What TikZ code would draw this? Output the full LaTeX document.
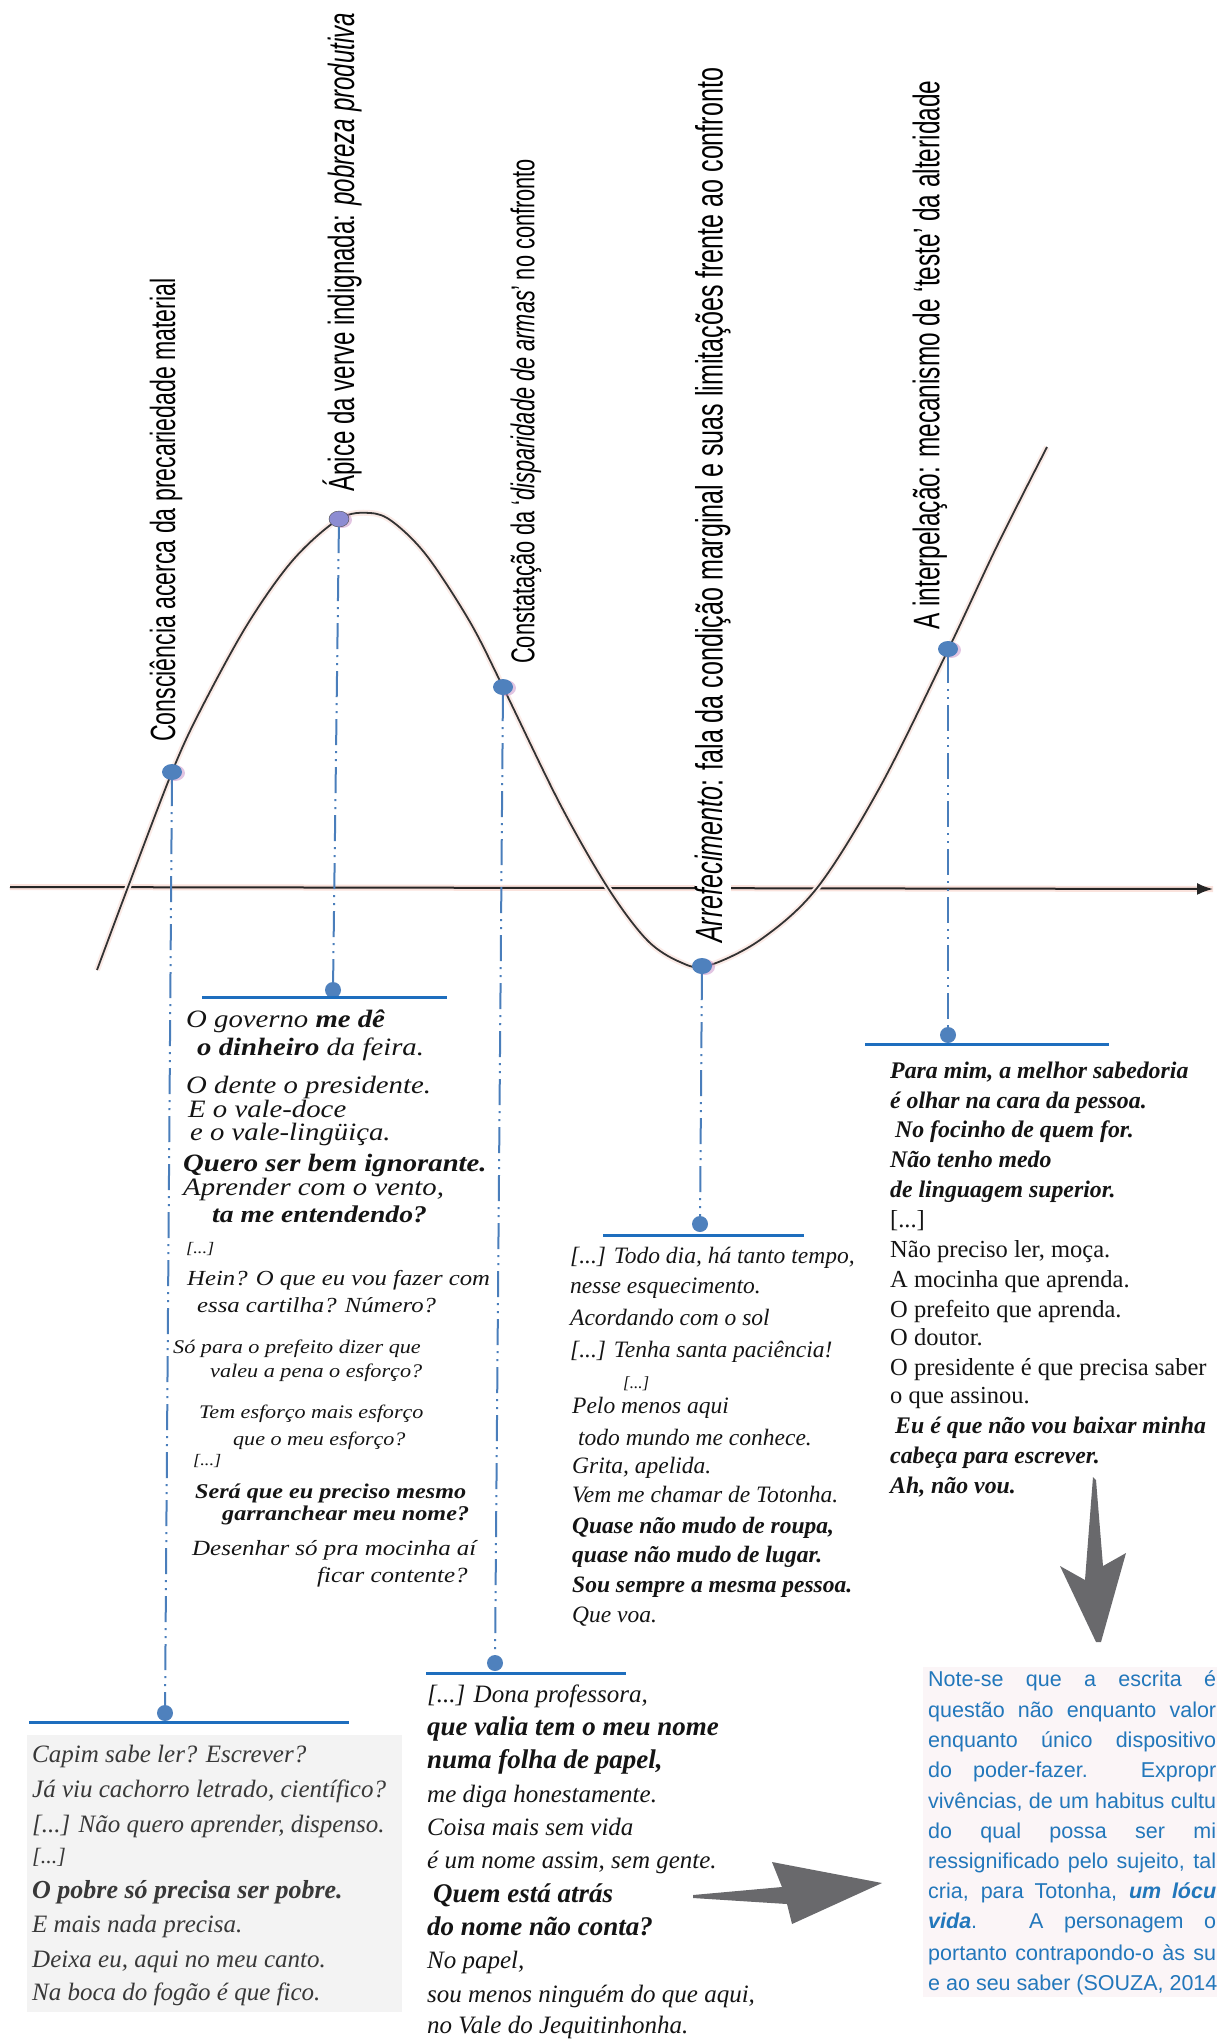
\documentclass[tikz,border=0pt]{standalone}
\usepackage{fontspec}
\setmainfont{Liberation Serif}
\newfontfamily\wideverse[FakeStretch=1.15]{Liberation Serif}
\newfontfamily\stagefont[FakeStretch=0.66]{Liberation Sans}
\newfontfamily\notefont{Liberation Sans}
\usetikzlibrary{arrows.meta,shapes.geometric,shadows}
\definecolor{DotBlue}{RGB}{79,129,189}
\definecolor{PeakViolet}{RGB}{140,140,210}
\definecolor{GuideBlue}{RGB}{74,126,187}
\definecolor{ShelfBlue}{RGB}{30,110,190}
\definecolor{NoteBlue}{RGB}{34,119,187}
\definecolor{BrushGray}{RGB}{105,105,108}
\definecolor{ScanPink}{RGB}{250,226,220}
\definecolor{PaperGray}{RGB}{243,243,243}
\definecolor{PaperPink}{RGB}{251,245,247}
\tikzset{
  curvedot/.style={ellipse, fill=DotBlue, minimum width=20pt, minimum height=16pt,
    inner sep=0pt, drop shadow={shadow xshift=3pt, shadow yshift=-1pt, fill=violet!45, opacity=.5}},
  enddot/.style={circle, fill=DotBlue, minimum size=16pt, inner sep=0pt},
  guide/.style={draw=GuideBlue, line width=2pt,
    dash pattern=on 26pt off 6pt on 2pt off 6pt on 2pt off 6pt},
  shelf/.style={draw=ShelfBlue, line width=3pt},
  stagelabel/.style={rotate=90, anchor=west, inner sep=0pt, text=black},
  verse/.style={anchor=base west, inner sep=0pt, text=black!92},
  noteline/.style={anchor=base west, inner sep=0pt, text=NoteBlue,
    font={\notefont\fontsize{21.5}{21.5}\selectfont}}
}

\begin{document}
\begin{tikzpicture}[x=1pt,y=-1pt]
\useasboundingbox (0,0) rectangle (1217,2040);

% paper tints of the scanned blocks
\fill[PaperGray] (27,1735) rectangle (402,2012);
\fill[PaperPink] (923,1667) rectangle (1217,1997);

% axis
\coordinate (axisL) at (10,887);
\coordinate (axisR) at (1213,889);
\draw[ScanPink, line width=6pt] (axisL) -- (axisR);
\draw[black!85, line width=2pt, -{Latex[length=16pt,width=12pt]}] (axisL) -- (axisR);

% the wave
\draw[ScanPink!70, line width=6pt] plot[smooth, tension=0.55] coordinates {
  (97,970) (128,887) (172,772) (200,711) (247,625) (293,560) (339,519) (370,513)
  (393,522) (427,556) (470,622) (503,687) (560,804) (608,888) (647,940) (680,962)
  (707,966) (760,940) (817,888) (880,787) (948,650) (997,546) (1047,447)};
\draw[black!80, line width=1.8pt] plot[smooth, tension=0.55] coordinates {
  (97,970) (128,887) (172,772) (200,711) (247,625) (293,560) (339,519) (370,513)
  (393,522) (427,556) (470,622) (503,687) (560,804) (608,888) (647,940) (680,962)
  (707,966) (760,940) (817,888) (880,787) (948,650) (997,546) (1047,447)};

% stage labels
\node[stagelabel, font={\stagefont\fontsize{35}{35}\selectfont}] (consc) at (166,742)
  {Consciência acerca da precariedade material};
\node[stagelabel, font={\stagefont\fontsize{36.5}{36.5}\selectfont}] (verve) at (342,492)
  {Ápice da verve indignada: \textit{pobreza produtiva}};
\node[stagelabel, font={\stagefont\fontsize{33}{33}\selectfont}] (const) at (526,664)
  {Constatação da ‘\textit{disparidade de armas}’ no confronto};
\node[stagelabel, fill=white, font={\stagefont\fontsize{38}{38}\selectfont}] (arref) at (713,943)
  {\textit{Arrefecimento}: fala da condição marginal e suas limitações frente ao confronto};
\node[stagelabel, font={\stagefont\fontsize{37}{37}\selectfont}] (interp) at (930,630)
  {A interpelação: mecanismo de ‘teste’ da alteridade};

% points on the wave
\node[curvedot] (c1) at (172,772) {};
\node[curvedot, fill=PeakViolet, draw=black!70, thin] (c2) at (339,519) {};
\node[curvedot] (c3) at (503,687) {};
\node[curvedot] (c4) at (702,966) {};
\node[curvedot] (c5) at (948,649) {};

% anchors of the excerpts
\node[enddot] (e1) at (165,1713) {};
\node[enddot] (e2) at (333,990) {};
\node[enddot] (e3) at (495,1663) {};
\node[enddot] (e4) at (700,1224) {};
\node[enddot] (e5) at (948,1035) {};
\foreach \n in {1,...,5}
  \draw[guide] (c\n) -- (e\n);

\coordinate (s1l) at (29,1722);  \coordinate (s1r) at (349,1722);
\coordinate (s2l) at (202,997);  \coordinate (s2r) at (447,997);
\coordinate (s3l) at (426,1673); \coordinate (s3r) at (626,1673);
\coordinate (s4l) at (603,1235); \coordinate (s4r) at (804,1235);
\coordinate (s5l) at (865,1044); \coordinate (s5r) at (1109,1044);
\foreach \n in {1,...,5}
  \draw[shelf] (s\n l) -- (s\n r);

% excerpt under the peak
\foreach \y/\x/\s/\txt [count=\i] in {
  1027/186/25/{O governo \textbf{me dê}},
  1055/197/25/{\textbf{o dinheiro} da feira.},
  1093/186/25/{O dente o presidente.},
  1117/188/25/{E o vale-doce},
  1140/190/25/{e o vale-lingüiça.},
  1171/183/25/{\textbf{Quero ser bem ignorante.}},
  1195/183/25/{Aprender com o vento,},
  1222/212/24/{\textbf{ta me entendendo?}},
  1253/186/16/{[...]},
  1285/187/21.5/{Hein? O que eu vou fazer com},
  1312/197/21.5/{essa cartilha? Número?},
  1353/173/19.3/{Só para o prefeito dizer que},
  1377/210/19.3/{valeu a pena o esforço?},
  1418/199/19.2/{Tem esforço mais esforço},
  1445/233/19.2/{que o meu esforço?},
  1465/193/16/{[...]},
  1498/195/21/{\textbf{Será que eu preciso mesmo}},
  1520/222/21/{\textbf{garranchear meu nome?}},
  1555/192/21.7/{Desenhar só pra mocinha aí},
  1582/317/21.7/{ficar contente?}}
  \node[verse, font={\wideverse\itshape\fontsize{\s}{\s}\selectfont}] (verve\i) at (\x,\y) {\txt};

% excerpt under the trough
\foreach \y/\x/\s/\txt [count=\i] in {
  1263/570/23.5/{[...] Todo dia, há tanto tempo,},
  1293/570/23.5/{nesse esquecimento.},
  1325/570/23.5/{Acordando com o sol},
  1357/570/23.5/{[...] Tenha santa paciência!},
  1388/623/17/{[...]},
  1413/572/23.5/{Pelo menos aqui},
  1445/578/23.5/{todo mundo me conhece.},
  1473/572/23.5/{Grita, apelida.},
  1502/572/23.5/{Vem me chamar de Totonha.},
  1533/572/23.5/{\textbf{Quase não mudo de roupa,}},
  1562/572/23.5/{\textbf{quase não mudo de lugar.}},
  1592/572/23.5/{\textbf{Sou sempre a mesma pessoa.}},
  1622/572/23.5/{Que voa.}}
  \node[verse, font={\itshape\fontsize{\s}{\s}\selectfont}] (arref\i) at (\x,\y) {\txt};

% excerpt under the interpellation
\foreach \y/\x/\s/\txt [count=\i] in {
  1078/890/23.8/{\textbf{Para mim, a melhor sabedoria}},
  1108/890/23.8/{\textbf{é olhar na cara da pessoa.}},
  1137/895/23.8/{\textbf{No focinho de quem for.}},
  1167/890/23.8/{\textbf{Não tenho medo}},
  1197/890/23.8/{\textbf{de linguagem superior.}},
  1227/890/24.5/{\upshape [...]},
  1257/890/24.5/{\upshape Não preciso ler, moça.},
  1287/890/24.5/{\upshape A mocinha que aprenda.},
  1317/890/24.5/{\upshape O prefeito que aprenda.},
  1345/890/24.5/{\upshape O doutor.},
  1375/890/24.5/{\upshape O presidente é que precisa saber},
  1403/890/24.5/{\upshape o que assinou.},
  1433/895/23.8/{\textbf{Eu é que não vou baixar minha}},
  1463/890/23.8/{\textbf{cabeça para escrever.}},
  1493/890/23.8/{\textbf{Ah, não vou.}}}
  \node[verse, font={\itshape\fontsize{\s}{\s}\selectfont}] (interp\i) at (\x,\y) {\txt};

% excerpt of the first stage
\foreach \y/\x/\s/\txt [count=\i] in {
  1762/32/25/{Capim sabe ler? Escrever?},
  1797/32/25/{Já viu cachorro letrado, científico?},
  1832/32/25/{[...] Não quero aprender, dispenso.},
  1863/32/22/{[...]},
  1898/32/26/{\textbf{O pobre só precisa ser pobre.}},
  1932/32/25/{E mais nada precisa.},
  1967/32/25/{Deixa eu, aqui no meu canto.},
  2000/32/25/{Na boca do fogão é que fico.}}
  \node[verse, text=black!78, font={\itshape\fontsize{\s}{\s}\selectfont}] (consc\i) at (\x,\y) {\txt};

% excerpt of the third stage
\foreach \y/\x/\s/\txt [count=\i] in {
  1702/427/25/{[...] Dona professora,},
  1735/427/27/{\textbf{que valia tem o meu nome}},
  1768/427/27/{\textbf{numa folha de papel,}},
  1802/427/25/{me diga honestamente.},
  1835/427/25/{Coisa mais sem vida},
  1868/427/25/{é um nome assim, sem gente.},
  1902/433/27/{\textbf{Quem está atrás}},
  1935/427/27/{\textbf{do nome não conta?}},
  1968/427/25/{No papel,},
  2002/427/25/{sou menos ninguém do que aqui,},
  2033/427/25/{no Vale do Jequitinhonha.}}
  \node[verse, font={\itshape\fontsize{\s}{\s}\selectfont}] (const\i) at (\x,\y) {\txt};

% brush arrows
\fill[BrushGray] (1093,1477) -- (1096,1480) -- (1103,1566) -- (1126,1553) -- (1101,1642)
  -- (1096,1642) -- (1060,1566) -- (1085,1580) -- cycle;
\fill[BrushGray] (693,1895) -- (782,1887) -- (772,1862) -- (882,1883) -- (792,1924)
  -- (787,1904) -- (693,1898) -- cycle;

% commentary, cut by the page edge
\begin{scope}
\clip (0,0) rectangle (1217,2040);
\foreach \y/\txt [count=\i] in {
  1686/{Note-se que a escrita é},
  1717/{questão não enquanto valor},
  1747/{enquanto único dispositivo},
  1777/{do poder-fazer. Expropr},
  1808/{vivências, de um habitus cultu},
  1838/{do qual possa ser mi},
  1868/{ressignificado pelo sujeito, tal},
  1898/{cria, para Totonha, \textbf{\textit{um lócu}}},
  1928/{\textbf{\textit{vida}}. A personagem o},
  1960/{portanto contrapondo-o às su}}
  \node[noteline] (note\i) at (928,\y) {\makebox[288pt][s]{\txt}};
\node[noteline] (note11) at (928,1990) {e ao seu saber (SOUZA, 2014};
\end{scope}
\end{tikzpicture}
\end{document}
